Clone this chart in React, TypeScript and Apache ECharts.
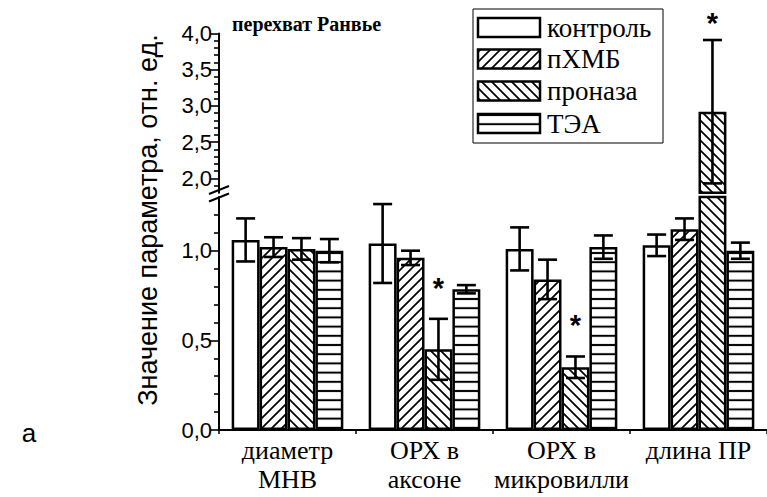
import React, { useEffect, useRef } from "react";
import * as echarts from "echarts";

const categories = ["диаметр\nМНВ", "ОРХ в\nаксоне", "ОРХ в\nмикровилли", "длина ПР"];
const seriesNames = ["контроль", "пХМБ", "проназа", "ТЭА"];
const controlValues = [1.06, 1.04, 1.01, 1.03];
const controlErrors = [0.12, 0.22, 0.12, 0.06];
const phmbValues = [1.02, 0.96, 0.84, 1.12];
const phmbErrors = [0.055, 0.04, 0.11, 0.06];
const pronaseValues = [1.01, 0.45, 0.35, 2.92];
const pronaseErrors = [0.06, 0.17, 0.06, 0.99];
const teaValues = [1.0, 0.785, 1.02, 1.0];
const teaErrors = [0.065, 0.023, 0.065, 0.045];
const controlSignificant = [false, false, false, false];
const phmbSignificant = [false, false, false, false];
const pronaseSignificant = [false, true, true, true];
const teaSignificant = [false, false, false, false];

const lowerRange = [0, 1.3];
const upperRange = [1.8, 4.0];
const lowerMajorTicks = [0, 0.5, 1.0];
const lowerMinorTicks = [0.1, 0.2, 0.3, 0.4, 0.6, 0.7, 0.8, 0.9, 1.1, 1.2];
const upperMajorTicks = [2.0, 2.5, 3.0, 3.5, 4.0];
const upperMinorTicks = [1.9, 2.1, 2.2, 2.3, 2.4, 2.6, 2.7, 2.8, 2.9, 3.1, 3.2, 3.3, 3.4, 3.6, 3.7, 3.8, 3.9];

const allValues = [controlValues, phmbValues, pronaseValues, teaValues];
const allErrors = [controlErrors, phmbErrors, pronaseErrors, teaErrors];
const allSignificant = [controlSignificant, phmbSignificant, pronaseSignificant, teaSignificant];

const CAT_GAP = 0.185;
const GRID_LEFT = 219;
const GRID_WIDTH = 550;
const UPPER_TOP = 33.5;
const UPPER_H = 159.3;
const LOWER_TOP = 196.9;
const LOWER_H = 233.1;

function tile(kind: string) {
  const s = 10;
  let w = s, h = s, body = "";
  if (kind === "fwd") {
    body = `<path d="M-2,${s + 2} L${s + 2},-2 M-2,2 L2,-2 M${s - 2},${s + 2} L${s + 2},${s - 2}" stroke="black" stroke-width="1.7" fill="none"/>`;
  } else if (kind === "back") {
    body = `<path d="M-2,-2 L${s + 2},${s + 2} M-2,${s - 2} L2,${s + 2} M${s - 2},-2 L${s + 2},2" stroke="black" stroke-width="1.7" fill="none"/>`;
  } else {
    h = 9.2;
    body = `<path d="M0,4.6 L${s},4.6" stroke="black" stroke-width="2" fill="none"/>`;
  }
  const svg = `<svg xmlns="http://www.w3.org/2000/svg" width="${w}" height="${h}"><rect width="${w}" height="${h}" fill="white"/>${body}</svg>`;
  return {
    image: "data:image/svg+xml;charset=utf-8," + encodeURIComponent(svg),
    repeat: "repeat",
    imageWidth: w,
    imageHeight: h,
  } as any;
}

const fmt = (v: number) => v.toFixed(1).replace(".", ",");

export default function App() {
  const ref = useRef<HTMLDivElement>(null);
  useEffect(() => {
    if (!ref.current) return;
    const chart = echarts.init(ref.current, undefined, { renderer: "svg" });
    const fills: any[] = ["#ffffff", tile("fwd"), tile("back"), tile("horiz")];

    const yAxisCommon = (gridIndex: number, range: number[], major: boolean, ticks: number[]) => ({
      type: "value",
      gridIndex,
      min: range[0],
      max: range[1],
      position: "left",
      splitLine: { show: false },
      axisLine: { show: major, lineStyle: { color: "#000", width: 2 } },
      axisTick: {
        show: true,
        customValues: ticks,
        length: major ? 9 : 5,
        lineStyle: { color: "#000", width: 1.6 },
      },
      axisLabel: major
        ? {
            show: true,
            customValues: ticks,
            formatter: (v: number) => fmt(v),
            fontFamily: "Liberation Sans",
            fontSize: 22,
            color: "#000",
            margin: 7,
          }
        : { show: false },
    });

    const barSeries: any[] = [];
    [0, 1].forEach((g) => {
      seriesNames.forEach((name, s) => {
        const data = allValues[s].map((v) =>
          g === 0 ? (v > upperRange[0] ? v : "-") : v
        );
        barSeries.push({
          type: "bar",
          name,
          xAxisIndex: g,
          yAxisIndex: g === 0 ? 0 : 2,
          data,
          barGap: "0%",
          barCategoryGap: CAT_GAP * 100 + "%",
          clip: true,
          silent: true,
          itemStyle: { color: fills[s], borderColor: "#000", borderWidth: 2.5 },
        });
      });
    });

    const errData = (g: number) => {
      const out: any[] = [];
      allValues.forEach((vals, s) => {
        vals.forEach((v, c) => {
          const inUpper = v > upperRange[0];
          if ((g === 0 && inUpper) || (g === 1 && !inUpper)) {
            out.push([c, v, allErrors[s][c], s, allSignificant[s][c] ? 1 : 0]);
          }
        });
      });
      return out;
    };

    const errSeries = (g: number) => ({
      type: "custom",
      xAxisIndex: g,
      yAxisIndex: g === 0 ? 0 : 2,
      silent: true,
      clip: false,
      z: 5,
      encode: { x: 0, y: 1 },
      data: errData(g),
      renderItem: (params: any, api: any) => {
        const c = api.value(0);
        const v = api.value(1);
        const e = api.value(2);
        const s = api.value(3);
        const star = api.value(4);
        const band = api.size([1, 0])[0];
        const bw = (band * (1 - CAT_GAP)) / 4;
        const x = api.coord([c, v])[0] + (s - 1.5) * bw;
        const top = api.coord([c, v + e])[1];
        const bot = api.coord([c, v - e])[1];
        const half = 9.5;
        const st = { stroke: "#000", lineWidth: 2.6 };
        const children: any[] = [
          { type: "line", shape: { x1: x, y1: top, x2: x, y2: bot }, style: st },
          { type: "line", shape: { x1: x - half, y1: top, x2: x + half, y2: top }, style: st },
          { type: "line", shape: { x1: x - half, y1: bot, x2: x + half, y2: bot }, style: st },
        ];
        if (star) {
          children.push({
            type: "text",
            style: {
              text: "*",
              x,
              y: top - (g === 0 ? 17 : 31),
              align: "center",
              verticalAlign: "middle",
              fontFamily: "Liberation Sans",
              fontWeight: "bold",
              fontSize: 29,
              fill: "#000",
            },
          });
        }
        return { type: "group", children };
      },
    });

    const legendTop = 9;
    const legendRowCenters = [27.5, 59, 91, 123.5];
    const legendGraphics: any[] = [
      {
        type: "rect",
        shape: { x: 473, y: legendTop, width: 190, height: 134 },
        style: { fill: "#fff", stroke: "#000", lineWidth: 1 },
        z: 10,
      },
    ];
    seriesNames.forEach((name, s) => {
      const cy = legendRowCenters[s];
      legendGraphics.push({
        type: "rect",
        shape: { x: 478, y: cy - 9.5, width: 62, height: 19 },
        style: { fill: fills[s], stroke: "#000", lineWidth: 2.5 },
        z: 11,
      });
      legendGraphics.push({
        type: "text",
        x: 547,
        y: cy,
        style: {
          text: name,
          fontFamily: "Liberation Serif",
          fontSize: 27,
          fill: "#000",
          verticalAlign: "middle",
          align: "left",
        },
        z: 11,
      });
    });

    chart.setOption({
      animation: false,
      backgroundColor: "#fff",
      grid: [
        { left: GRID_LEFT, width: GRID_WIDTH, top: UPPER_TOP, height: UPPER_H },
        { left: GRID_LEFT, width: GRID_WIDTH, top: LOWER_TOP, height: LOWER_H },
      ],
      xAxis: [
        { type: "category", gridIndex: 0, data: categories, show: false },
        {
          type: "category",
          gridIndex: 1,
          data: categories,
          axisLine: { show: true, lineStyle: { color: "#000", width: 2 } },
          axisTick: { show: true, length: 4, lineStyle: { color: "#000", width: 1.5 } },
          axisLabel: {
            interval: 0,
            fontFamily: "Liberation Serif",
            fontSize: 26,
            lineHeight: 29,
            color: "#000",
            margin: 6,
          },
        },
      ],
      yAxis: [
        yAxisCommon(0, upperRange, true, upperMajorTicks),
        yAxisCommon(0, upperRange, false, upperMinorTicks),
        yAxisCommon(1, lowerRange, true, lowerMajorTicks),
        yAxisCommon(1, lowerRange, false, lowerMinorTicks),
      ],
      series: [...barSeries, errSeries(0), errSeries(1)],
      graphic: [
        {
          type: "line",
          shape: { x1: 209, y1: 194, x2: 229, y2: 186 },
          style: { stroke: "#000", lineWidth: 2 },
        },
        {
          type: "line",
          shape: { x1: 209, y1: 201.5, x2: 229, y2: 193.5 },
          style: { stroke: "#000", lineWidth: 2 },
        },
        {
          type: "text",
          x: 148,
          y: 220,
          rotation: Math.PI / 2,
          style: {
            text: "Значение параметра, отн. ед.",
            fontFamily: "Liberation Sans",
            fontSize: 27,
            fill: "#000",
            align: "center",
            verticalAlign: "middle",
          },
        },
        {
          type: "text",
          x: 232,
          y: 24,
          style: {
            text: "перехват Ранвье",
            fontFamily: "Liberation Serif",
            fontWeight: "bold",
            fontSize: 20,
            fill: "#000",
            align: "left",
            verticalAlign: "middle",
          },
        },
        {
          type: "text",
          x: 29,
          y: 433,
          style: {
            text: "а",
            fontFamily: "Liberation Sans",
            fontSize: 26,
            fill: "#000",
            align: "center",
            verticalAlign: "middle",
          },
        },
        ...legendGraphics,
      ],
    });
    return () => chart.dispose();
  }, []);
  return (
    <div
      ref={ref}
      style={{ position: "fixed", left: 0, top: 0, width: 767, height: 497, background: "#fff" }}
    />
  );
}
